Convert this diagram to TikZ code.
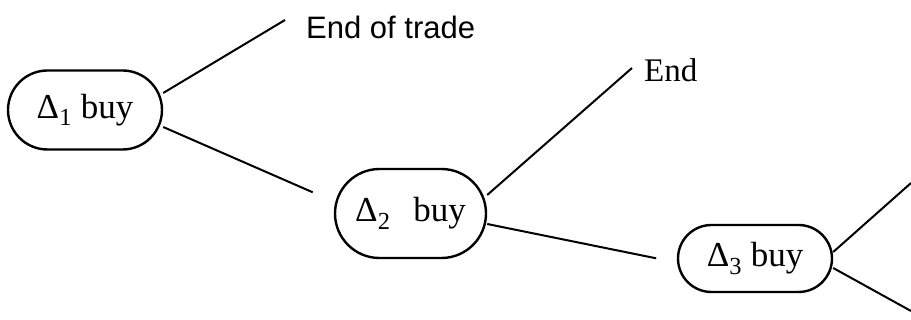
\documentclass[tikz,border=0pt]{standalone}
\usepackage{fontspec}
\usetikzlibrary{shapes.misc}
\setmainfont{Liberation Serif}
\newfontfamily\arialfont{Liberation Sans}
\begin{document}
\begin{tikzpicture}[x=1pt,y=-1pt,
  state/.style={draw, rounded rectangle, line width=2.4pt, inner sep=0pt, font=\fontsize{35}{35}\selectfont},
  edge/.style={line width=2pt},
  lbl/.style={anchor=west, inner sep=0pt}]
\useasboundingbox (0,0) rectangle (911,320);
\node[state, minimum width=154pt, minimum height=79pt] (n1) at (85,110) {Δ\textsubscript{1} buy};
\node[state, minimum width=151pt, minimum height=89pt] (n2) at (410.5,213.5) {Δ\textsubscript{2}\hspace{0.4em} buy};
\node[state, minimum width=154pt, minimum height=67pt] (n3) at (755,258.5) {Δ\textsubscript{3} buy};
\node[lbl, font=\arialfont\fontsize{31}{31}\selectfont] (t1) at (306,27) {End of trade};
\node[lbl, font=\fontsize{33}{33}\selectfont] (t2) at (644,70) {End};
\coordinate (e1) at (285,20);
\coordinate (e2) at (632,68);
\coordinate (e3) at (911,183);
\coordinate (e4) at (911,311);
\draw[edge] ([yshift=17pt]n1.east) -- (e1);
\draw[edge, shorten >=23pt] ([yshift=-17pt]n1.east) -- ([yshift=12pt]n2.west);
\draw[edge] ([yshift=18.5pt]n2.east) -- (e2);
\draw[edge, shorten >=21pt] ([yshift=-10.5pt]n2.east) -- ([yshift=-4pt]n3.west);
\draw[edge] ([yshift=6.5pt]n3.east) -- (e3);
\draw[edge] ([yshift=-9.5pt]n3.east) -- (e4);
\end{tikzpicture}
\end{document}
